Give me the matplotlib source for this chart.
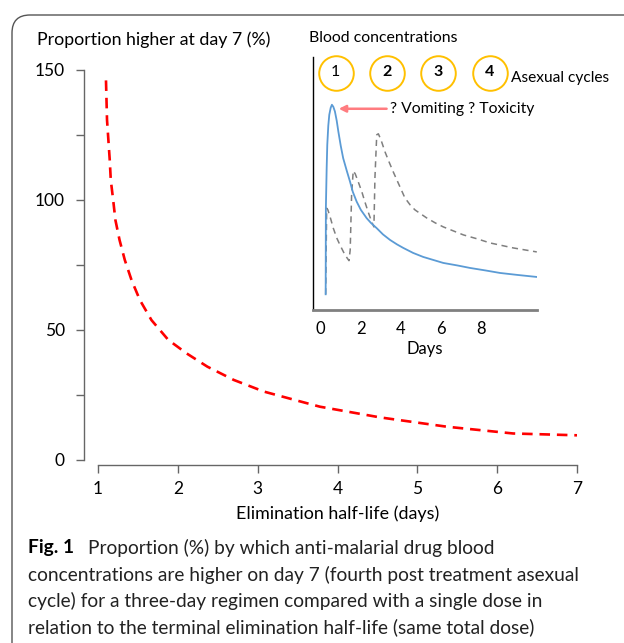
import matplotlib
matplotlib.use("Agg")
import matplotlib.pyplot as plt
from matplotlib.patches import FancyBboxPatch

# main chart: proportion higher at day 7 vs elimination half-life
half_life = [1.10, 1.113, 1.147, 1.16, 1.19, 1.218, 1.27, 1.336, 1.42, 1.525, 1.67,
             1.88, 2.11, 2.37, 2.70, 3.08, 3.50, 3.78, 4.53, 5.37, 6.20, 7.00]
prop_higher = [146, 130.8, 115.4, 107.7, 100, 92.3, 84.6, 76.9, 69.2, 61.5, 53.8,
               46.2, 41, 35.9, 30.8, 26.3, 22.8, 20.5, 16.4, 12.8, 10.2, 9.5]

# inset: blood concentrations (arbitrary units) vs days
single_days = [0.25, 0.26, 0.30, 0.33, 0.38, 0.43, 0.50, 0.56, 0.63, 0.71, 0.80, 0.88,
               1.0, 1.12, 1.3, 1.46, 1.6, 1.79, 2.0, 2.29, 2.5, 2.79, 3.1, 3.45, 3.8,
               4.11, 4.6, 5.1, 5.6, 6.1, 6.8, 7.43, 8.2, 8.92, 9.8, 10.75]
single_conc = [15.7, 101.7, 142, 165, 184, 195, 202, 205, 203, 198.3, 189, 178.3,
               164, 151.7, 139, 128.3, 118, 108.3, 100, 91.7, 87, 81.7, 75.5, 70, 65.5,
               62, 57, 53, 50, 47, 44.5, 42, 39.5, 37, 35, 33]
three_days = [0.25, 0.30, 0.36, 0.5, 0.63, 0.8, 0.96, 1.21, 1.41, 1.47, 1.54, 1.62,
              1.72, 1.87, 2.05, 2.2, 2.38, 2.54, 2.65, 2.70, 2.79, 2.87, 3.0, 3.2,
              3.4, 3.61, 3.9, 4.19, 4.45, 4.69, 5.27, 5.7, 6.1, 7.1, 7.8, 8.42, 9.0,
              9.58, 10.75]
three_conc = [15.7, 101.7, 100, 91, 81.7, 72, 65, 55, 49.3, 60, 115, 139, 136, 128,
              118, 108, 97, 88, 83, 132, 175, 176, 170, 158, 148, 138, 125, 112, 105,
              100, 92, 87, 83, 75, 71, 67, 64.5, 62, 58]

cycle_labels = ["1", "2", "3", "4"]
cycle_days = [0.75, 3.28, 5.84, 8.41]

plt.rcParams['font.family'] = ['Lato', 'DejaVu Sans']

W, H = 624, 643
fig = plt.figure(figsize=(W / 100, H / 100), dpi=100)

def fx(px):
    return px / W

def fy(py):
    return 1 - py / H

# rounded frame, open to the right and bottom
frame = FancyBboxPatch((0.12, -1), 8, 7.28, boxstyle="round,pad=0,rounding_size=0.18",
                       transform=fig.dpi_scale_trans, fill=False, edgecolor="#555555",
                       linewidth=1.0)
fig.patches.append(frame)

ax = fig.add_axes([fx(98), fy(460), fx(577) - fx(98), fy(70) - fy(460)])
ax.plot(half_life, prop_higher, color="red", linewidth=1.9, dashes=(4, 2.6))
ax.set_xlim(1, 7)
ax.set_ylim(0, 150)
ax.set_xticks(range(1, 8))
ax.set_yticks([0, 50, 100, 150])
ax.set_yticks([25, 75, 125], minor=True)
for s in ["top", "right"]:
    ax.spines[s].set_visible(False)
ax.spines["left"].set_position(("outward", 10))
ax.spines["bottom"].set_position(("outward", 3.6))
for s in ["left", "bottom"]:
    ax.spines[s].set_color("#666666")
    ax.spines[s].set_linewidth(1.0)
ax.tick_params(axis="y", which="both", length=5.8, width=1.0, color="#666666",
               labelsize=12.5, pad=8)
ax.tick_params(axis="x", length=5.8, width=1.0, color="#666666", labelsize=12.5, pad=6)
ax.set_xlabel("Elimination half-life (days)", fontsize=12.9, labelpad=6)
fig.text(fx(37), fy(40), "Proportion higher at day 7 (%)", fontsize=12.8, va="center")

# inset
axi = fig.add_axes([fx(313), fy(310), fx(537) - fx(313), fy(56.7) - fy(310)])
axi.plot(three_days, three_conc, color="#7f7f7f", linewidth=1.1, dashes=(4, 3))
axi.plot(single_days, single_conc, color="#5b9bd5", linewidth=1.3)
axi.set_xlim(-0.38, 10.76)
axi.set_ylim(0, 253)
axi.set_xticks([0, 2, 4, 6, 8])
axi.set_yticks([])
axi.patch.set_alpha(0)
for s in ["top", "right"]:
    axi.spines[s].set_visible(False)
axi.spines["left"].set_color("black")
axi.spines["left"].set_linewidth(1.0)
axi.spines["bottom"].set_color("#808080")
axi.spines["bottom"].set_linewidth(2.0)
axi.tick_params(axis="x", length=0, labelsize=12, pad=8)
axi.set_xlabel("Days", fontsize=12, labelpad=3)
fig.text(fx(309), fy(38), "Blood concentrations", fontsize=11.4, va="center")

axi.scatter(cycle_days, [237] * len(cycle_days), s=620, facecolor="white",
            edgecolor="#ffc000", linewidth=1.4, zorder=3, clip_on=False)
for i, (lab, d) in enumerate(zip(cycle_labels, cycle_days)):
    axi.text(d, 238, lab, ha="center", va="center", fontsize=11.5,
             fontweight="normal" if i == 0 else "bold", zorder=4)
axi.text(9.47, 232, "Asexual cycles", fontsize=11.2, va="center", ha="left")
axi.annotate("", xy=(0.9, 201), xytext=(3.28, 201),
             arrowprops=dict(arrowstyle="-|>", color="#ff7c80", lw=1.8,
                             mutation_scale=10, shrinkA=0, shrinkB=0))
axi.text(3.44, 201, "? Vomiting ? Toxicity", fontsize=11.3, va="center", ha="left")

# caption
fs_cap = 13.8
fig.text(fx(28), fy(548), "Fig. 1", fontsize=fs_cap, fontweight="bold", va="center")
cap = ["Proportion (%) by which anti-malarial drug blood",
       "concentrations are higher on day 7 (fourth post treatment asexual",
       "cycle) for a three-day regimen compared with a single dose in",
       "relation to the terminal elimination half-life (same total dose)"]
fig.text(fx(88), fy(548), cap[0], fontsize=fs_cap, va="center", color="#222222")
for k, line in enumerate(cap[1:]):
    fig.text(fx(28), fy(575 + 26 * k), line, fontsize=fs_cap, va="center", color="#222222")

fig.savefig("out.png", dpi=100)
